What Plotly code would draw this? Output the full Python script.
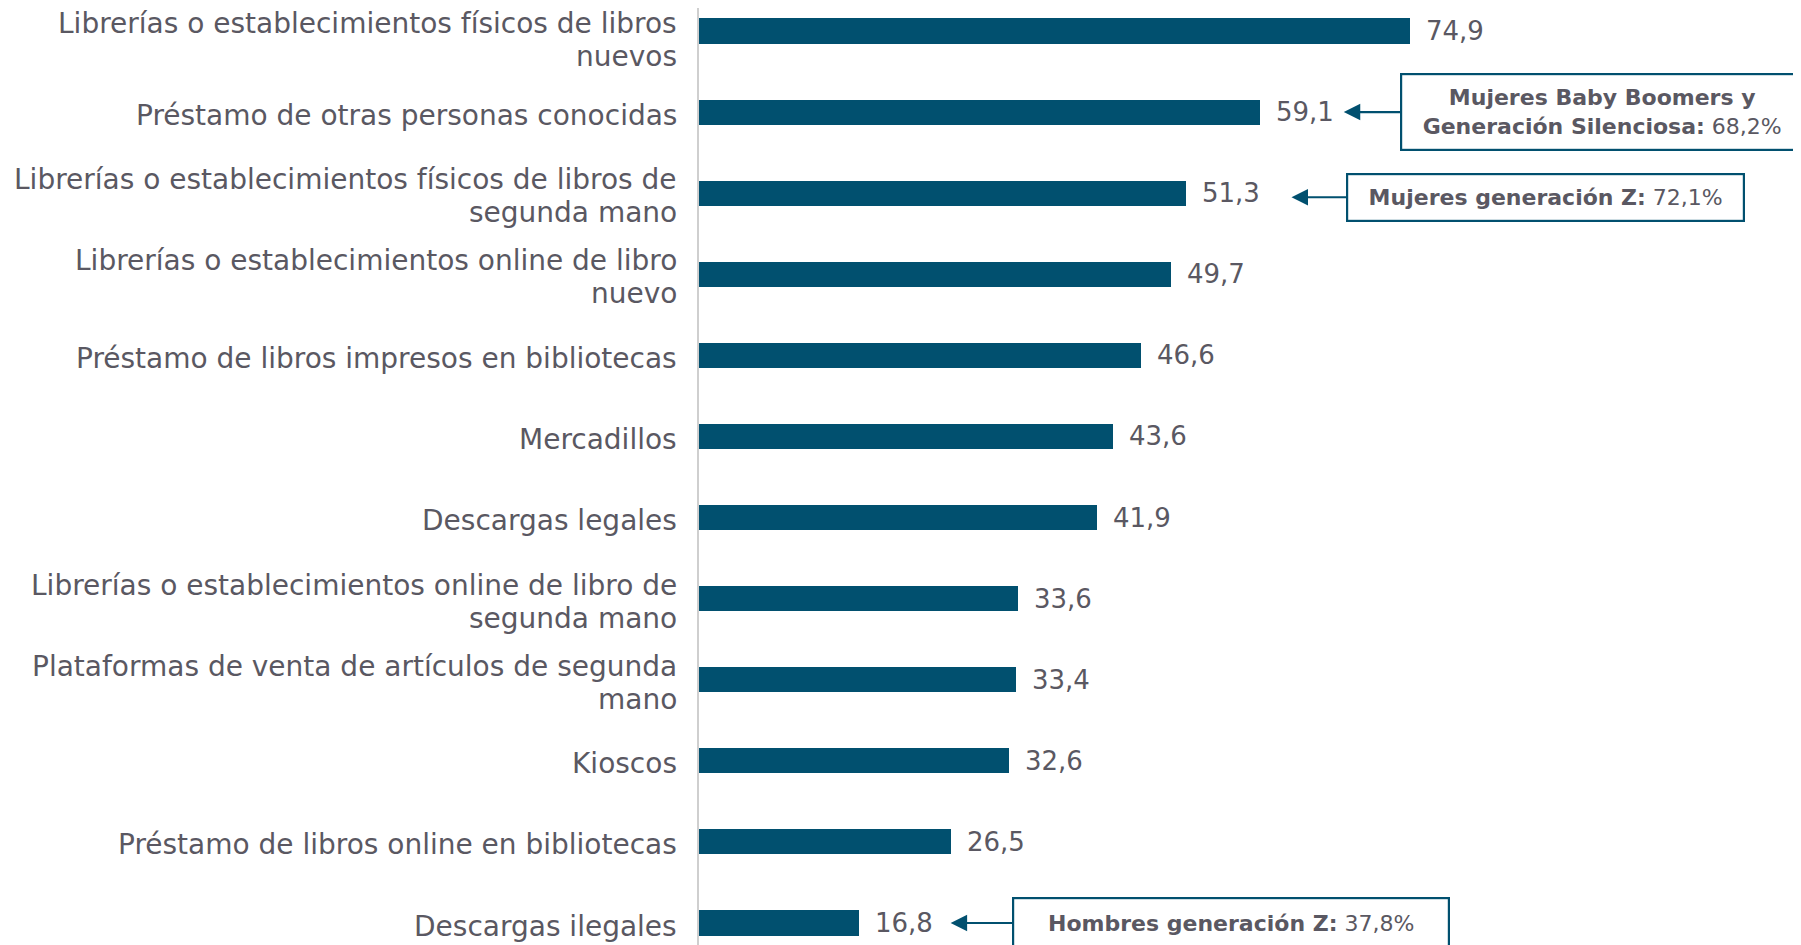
import plotly.graph_objects as go

categories = [
    "Librerías o establecimientos físicos de libros<br>nuevos",
    "Préstamo de otras personas conocidas",
    "Librerías o establecimientos físicos de libros de<br>segunda mano",
    "Librerías o establecimientos online de libro<br>nuevo",
    "Préstamo de libros impresos en bibliotecas",
    "Mercadillos",
    "Descargas legales",
    "Librerías o establecimientos online de libro de<br>segunda mano",
    "Plataformas de venta de artículos de segunda<br>mano",
    "Kioscos",
    "Préstamo de libros online en bibliotecas",
    "Descargas ilegales",
]
values = [74.9, 59.1, 51.3, 49.7, 46.6, 43.6, 41.9, 33.6, 33.4, 32.6, 26.5, 16.8]

callout_index = [1, 2, 11]
callout_bold = ["Mujeres Baby Boomers y<br>Generación Silenciosa:", "Mujeres generación Z:", "Hombres generación Z:"]
callout_value = ["68,2%", "72,1%", "37,8%"]

BAR = "#01506F"
TXT = "#5A5862"
FONT = "DejaVu Sans"

pos = list(range(len(categories)))

fig = go.Figure()
fig.add_trace(go.Bar(
    x=values, y=pos, orientation="h", width=0.31,
    marker=dict(color=BAR, line=dict(width=0)),
    hoverinfo="skip",
))

# category labels, one annotation per text line for tighter line spacing
LINE_GAP = 33
for i, cat in enumerate(categories):
    lines = cat.split("<br>")
    n = len(lines)
    base = -3 if i > 0 else -9
    for j, line in enumerate(lines):
        shift = base if n == 1 else -(j - (n - 1) / 2) * LINE_GAP + base
        fig.add_annotation(
            x=0, y=i, xref="paper", yref="y", text=line,
            showarrow=False, xanchor="right", yanchor="middle",
            xshift=-20, yshift=shift,
            font=dict(family=FONT, size=28, color=TXT),
        )

for i, v in enumerate(values):
    fig.add_annotation(
        x=v, y=i, xref="x", yref="y", text=f"{v:.1f}".replace(".", ","),
        showarrow=False, xanchor="left", yanchor="middle", xshift=14,
        font=dict(family=FONT, size=26, color=TXT),
    )

# callout boxes: (arrow tip x, box center x, box width, box height, vertical offset)
box_geom = [(67.9, 95.1, 392, 66, 0.0), (62.4, 89.1, 387, 37, 0.05), (26.5, 56.0, 426, 40, 0.0)]
for k, idx in enumerate(callout_index):
    tip, cx, w, h, dy = box_geom[k]
    fig.add_annotation(
        x=tip, y=idx + dy, ax=cx, ay=idx + dy, xref="x", yref="y", axref="x", ayref="y",
        text=f"<b>{callout_bold[k]}</b> {callout_value[k]}",
        showarrow=True, arrowhead=2, arrowsize=1.5, arrowwidth=2.2, arrowcolor=BAR,
        standoff=0, startstandoff=0,
        bordercolor=BAR, borderwidth=2.2, borderpad=4, bgcolor="white",
        width=w, height=h, align="center", valign="middle",
        font=dict(family=FONT, size=22, color=TXT),
    )

fig.update_layout(
    width=1801, height=945,
    margin=dict(l=691, r=0, t=0, b=0, autoexpand=False),
    plot_bgcolor="white", paper_bgcolor="white",
    showlegend=False,
    bargap=0,
    xaxis=dict(range=[0, 116.9], visible=False, fixedrange=True, automargin=False),
    yaxis=dict(
        range=[11.37, -0.284], tickmode="array", tickvals=pos, ticktext=[""] * len(pos),
        showline=True, linecolor="#CFCFCF", linewidth=1.5,
        showgrid=False, zeroline=False, ticks="", automargin=False,
    ),
)

fig.write_html("out.html")
